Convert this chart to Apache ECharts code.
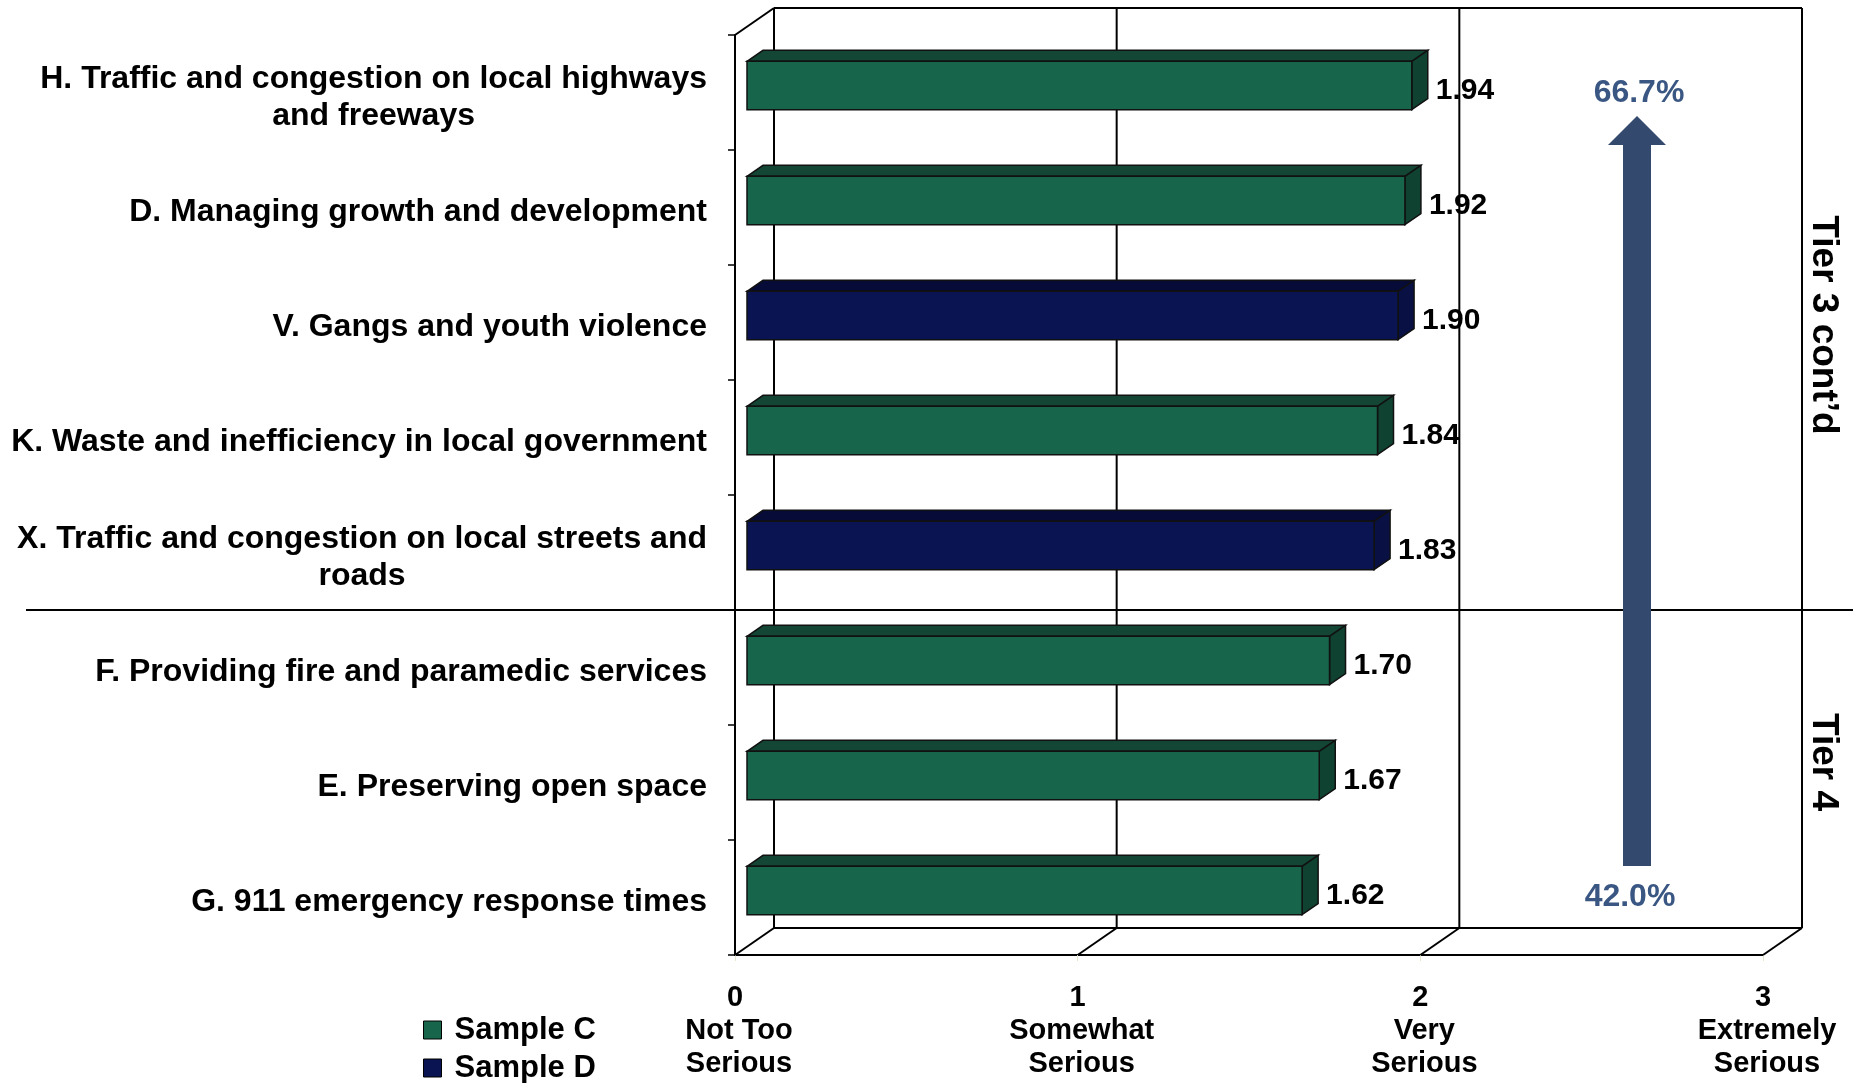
<!DOCTYPE html>
<html>
<head>
<meta charset="utf-8">
<title>Seriousness of issues</title>
<script src="https://cdn.jsdelivr.net/npm/echarts@6/dist/echarts.min.js"></script>
<style>
  html, body { margin: 0; padding: 0; background: #fff; }
  #chart { width: 1853px; height: 1083px; }
</style>
</head>
<body>
<div id="chart"></div>
<script>
// categories, top to bottom
var categories = [
  'H. Traffic and congestion on local highways\nand freeways',
  'D. Managing growth and development',
  'V. Gangs and youth violence',
  'K. Waste and inefficiency in local government',
  'X. Traffic and congestion on local streets and\nroads',
  'F. Providing fire and paramedic services',
  'E. Preserving open space',
  'G. 911 emergency response times'
]
var sampleC = [1.94, 1.92, null, 1.84, null, 1.70, 1.67, 1.62]
var sampleD = [null, null, 1.90, null, 1.83, null, null, null]
var tickNames = ['Not Too\nSerious', 'Somewhat\nSerious', 'Very\nSerious', 'Extremely\nSerious']
var tierNames = ['Tier 3 cont\u2019d', 'Tier 4']
var arrowLabels = ['66.7%', '42.0%']

var FONT = '"Liberation Sans", Arial, sans-serif'
// 3d depth of the floor / back wall
var DX = 39, DY = -27

// front, top, side colours
var greenFaces = ['#17664c', '#134634', '#0f4230']
var navyFaces = ['#0b1452', '#070b38', '#091043']

function toItems(arr) {
  var out = []
  arr.forEach(function (v, i) { if (v != null) out.push([v, i]) })
  return out
}

function barRenderer(faces) {
  return function (params, api) {
    var v = api.value(0), c = api.value(1)
    var p0 = api.coord([0, c]), p1 = api.coord([v, c])
    var band = api.size([0, 1])[1]
    var h = band * 0.42
    var x0 = p0[0] + 12, x1 = p1[0] + 12
    var yc = p0[1] - 7
    var y0 = yc - h / 2, y1 = yc + h / 2
    var dx = 16, dy = -11
    var stroke = { stroke: '#111', lineWidth: 1.5 }
    return {
      type: 'group',
      children: [
        { type: 'polygon', shape: { points: [[x0, y0], [x0 + dx, y0 + dy], [x1 + dx, y0 + dy], [x1, y0]] },
          style: Object.assign({ fill: faces[1] }, stroke) },
        { type: 'polygon', shape: { points: [[x1, y0], [x1 + dx, y0 + dy], [x1 + dx, y1 + dy], [x1, y1]] },
          style: Object.assign({ fill: faces[2] }, stroke) },
        { type: 'rect', shape: { x: x0, y: y0, width: x1 - x0, height: h },
          style: Object.assign({ fill: faces[0] }, stroke) },
        { type: 'text', x: x1 + dx + 8, y: yc + 5,
          style: { text: v.toFixed(2), fill: '#000', font: 'bold 30px ' + FONT,
            textAlign: 'left', textVerticalAlign: 'middle' } }
      ]
    }
  }
}

function renderFrame(params, api) {
  var cs = params.coordSys
  var top = cs.y, bottom = cs.y + cs.height
  var xs = [0, 1, 2, 3].map(function (v) { return api.coord([v, 0])[0] })
  var lines = []
  function seg(a, b, w) {
    lines.push({ type: 'line', shape: { x1: a[0], y1: a[1], x2: b[0], y2: b[1] },
      style: { stroke: '#000', lineWidth: w || 2 } })
  }
  xs.forEach(function (x) {
    seg([x + DX, top + DY], [x + DX, bottom + DY])
    seg([x, bottom], [x + DX, bottom + DY])
  })
  seg([xs[0] + DX, top + DY], [xs[3] + DX, top + DY])
  seg([xs[0] + DX, bottom + DY], [xs[3] + DX, bottom + DY])
  seg([xs[0], top], [xs[0] + DX, top + DY])
  return { type: 'group', children: lines }
}

var legendBase = {
  left: 423,
  padding: 0,
  itemWidth: 18,
  itemHeight: 18,
  icon: 'rect',
  itemStyle: { borderColor: '#000', borderWidth: 1 },
  textStyle: { fontSize: 31, fontWeight: 'bold', color: '#000', lineHeight: 34, padding: [0, 0, 0, 8] }
}

var chart = echarts.init(document.getElementById('chart'))

chart.setOption({
  backgroundColor: '#fff',
  animation: false,
  textStyle: { fontFamily: FONT },
  grid: { left: 735, right: 90, top: 35, bottom: 128 },
  legend: [
    Object.assign({ top: 1013, data: ['Sample C'] }, legendBase),
    Object.assign({ top: 1051, data: ['Sample D'] }, legendBase)
  ],
  xAxis: {
    type: 'value',
    min: 0,
    max: 3,
    interval: 1,
    axisLine: { show: true, lineStyle: { color: '#000', width: 2 } },
    axisTick: { show: true, length: 6, lineStyle: { color: '#e6e6cf' } },
    splitLine: { show: false },
    axisLabel: {
      margin: 26,
      showMaxLabel: true,
      showMinLabel: true,
      formatter: function (v) {
        var names = tickNames[Math.round(v)].split('\n')
        return '{n|' + v + '}\n' + names.map(function (s) { return '{t|' + s + '}' }).join('\n')
      },
      rich: {
        n: { fontSize: 29, fontWeight: 'bold', color: '#000', lineHeight: 33, fontFamily: FONT },
        t: { fontSize: 29, fontWeight: 'bold', color: '#000', lineHeight: 33, fontFamily: FONT, padding: [0, 0, 0, 8] }
      }
    }
  },
  yAxis: {
    type: 'category',
    inverse: true,
    data: categories,
    axisLine: { show: true, lineStyle: { color: '#000', width: 2 } },
    axisTick: { show: true, length: 7, lineStyle: { color: '#000', width: 1.5 } },
    axisLabel: {
      margin: 28,
      padding: [10, 0, 0, 0],
      formatter: function (v) {
        return v.split('\n').map(function (s) { return '{c|' + s + '}' }).join('\n')
      },
      rich: {
        c: { fontSize: 32, fontWeight: 'bold', color: '#000', lineHeight: 37, align: 'center', fontFamily: FONT }
      }
    }
  },
  series: [
    {
      type: 'custom',
      name: 'frame',
      silent: true,
      z: 1,
      renderItem: renderFrame,
      data: [[0, 0]]
    },
    {
      type: 'custom',
      name: 'Sample C',
      z: 3,
      itemStyle: { color: greenFaces[0] },
      renderItem: barRenderer(greenFaces),
      data: toItems(sampleC)
    },
    {
      type: 'custom',
      name: 'Sample D',
      z: 3,
      itemStyle: { color: navyFaces[0] },
      renderItem: barRenderer(navyFaces),
      data: toItems(sampleD)
    }
  ],
  graphic: [
    { type: 'line', shape: { x1: 26, y1: 610, x2: 1853, y2: 610 }, style: { stroke: '#000', lineWidth: 2 }, z: 5 },
    { type: 'polygon', z: 6,
      shape: { points: [[1637, 116], [1666, 145], [1651, 145], [1651, 866], [1623, 866], [1623, 145], [1608, 145]] },
      style: { fill: '#34496e' } },
    { type: 'text', x: 1639, y: 93, z: 6,
      style: { text: arrowLabels[0], font: 'bold 32px ' + FONT, fill: '#3a5683', textAlign: 'center', textVerticalAlign: 'middle' } },
    { type: 'text', x: 1630, y: 897, z: 6,
      style: { text: arrowLabels[1], font: 'bold 32px ' + FONT, fill: '#3a5683', textAlign: 'center', textVerticalAlign: 'middle' } },
    { type: 'text', x: 1823, y: 325, rotation: -Math.PI / 2, z: 6,
      style: { text: tierNames[0], font: 'bold 37px ' + FONT, fill: '#000', textAlign: 'center', textVerticalAlign: 'middle' } },
    { type: 'text', x: 1823, y: 762, rotation: -Math.PI / 2, z: 6,
      style: { text: tierNames[1], font: 'bold 37px ' + FONT, fill: '#000', textAlign: 'center', textVerticalAlign: 'middle' } }
  ]
})
</script>
</body>
</html>
